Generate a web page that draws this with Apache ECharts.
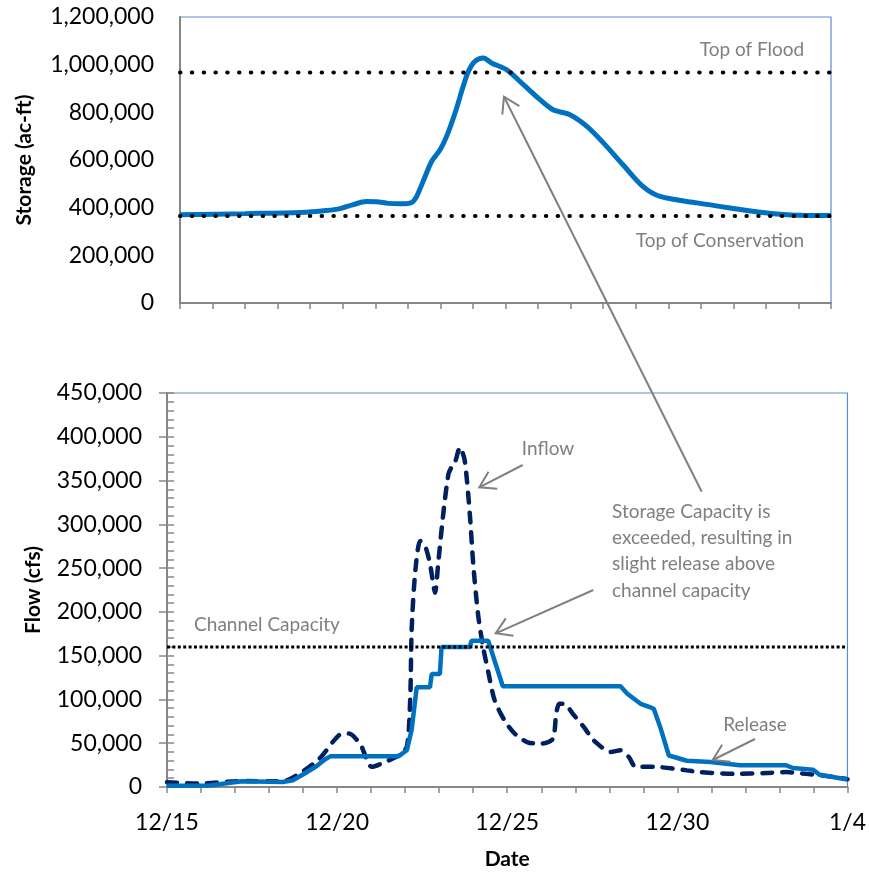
<!DOCTYPE html>
<html><head><meta charset="utf-8">
<script src="https://cdn.jsdelivr.net/npm/echarts@6/dist/echarts.min.js"></script>
<style>html,body{margin:0;padding:0;background:#fff}#c{width:869px;height:878px}</style>
</head><body><div id="c"></div>
<script>
// ---- data ----
const dateLabels = ['12/15', '12/20', '12/25', '12/30', '1/4'];
const dayCount = 20;

const storageDays   = [0, 2, 3.7, 4.5, 4.92, 5.3, 5.73, 6.04, 6.4, 6.76, 7.12, 7.27, 7.53, 7.73, 7.99, 8.19, 8.45, 8.7, 8.86, 9.06, 9.32, 9.57, 10.03, 10.55, 11.06, 11.46, 11.98, 12.5, 13.0, 13.61, 14.22, 14.75, 15.88, 16.9, 17.9, 18.96, 20];
const storageValues = [370000, 375000, 380000, 388000, 396000, 412000, 426000, 425000, 418000, 416000, 422000, 447000, 531000, 594000, 643000, 699000, 797000, 909000, 972000, 1014000, 1028000, 1007000, 979000, 916000, 853000, 811000, 790000, 741000, 673000, 580000, 489000, 447000, 420000, 399000, 380000, 368000, 367000];

const inflowDays   = [0, 0.96, 2.2, 3.4, 3.88, 4.47, 5.05, 5.34, 5.68, 6.02, 6.41, 6.8, 7.05, 7.15, 7.19, 7.29, 7.44, 7.58, 7.73, 7.88, 7.97, 8.12, 8.27, 8.36, 8.46, 8.61, 8.75, 8.9, 9.0, 9.14, 9.29, 9.45, 9.63, 9.92, 10.22, 10.6, 10.99, 11.34, 11.44, 11.53, 11.68, 11.92, 12.26, 12.55, 13.04, 13.33, 13.58, 13.77, 14.31, 15.28, 15.67, 16.65, 17.62, 18.2, 18.79, 19.3, 20];
const inflowValues = [5500, 4000, 6800, 6500, 15000, 32000, 59000, 61000, 49000, 23000, 28500, 36000, 46000, 103000, 179000, 243000, 281000, 276000, 255000, 222000, 255000, 312000, 357000, 365000, 370000, 388000, 373000, 312000, 255000, 198000, 160000, 130000, 99000, 76000, 61000, 51000, 49500, 55000, 84000, 95000, 95000, 84000, 68000, 53000, 40000, 42000, 34000, 23000, 23000, 19000, 17000, 15000, 16000, 17000, 15000, 13000, 9000];

const releaseDays   = [0, 1.25, 2.2, 3.4, 3.7, 4.07, 4.4, 4.66, 4.8, 6.8, 7.05, 7.19, 7.34, 7.73, 7.78, 8.02, 8.07, 8.9, 8.95, 9.44, 9.87, 13.33, 13.53, 13.92, 14.21, 14.31, 14.5, 14.75, 15.28, 15.97, 16.84, 18.2, 18.4, 18.99, 19.18, 20];
const releaseValues = [1500, 1600, 6500, 5700, 7600, 16000, 24000, 32000, 35000, 35000, 42000, 65000, 114000, 114000, 129000, 129000, 160000, 160000, 167000, 167000, 115000, 115000, 106600, 95000, 91000, 89000, 68000, 36000, 30000, 28500, 24800, 24800, 21700, 19800, 14000, 8500];

const topOfFlood = 967000;
const topOfConservation = 365000;
const channelCapacity = 160000;

const storageTicks = [0, 1200000, 200000];   // min, max, step
const flowTicks = [0, 450000, 50000];

// ---- build ----
const pairs = (xs, ys) => xs.map((x, i) => [x, ys[i]]);
const fmt = v => v.toLocaleString('en-US');
const FONT = 'Lato, "Open Sans", sans-serif';
const AX = '#868686';
const GREY = '#7F7F7F';

function arrow(x1, y1, x2, y2) {
  const dx = x1 - x2, dy = y1 - y2, L = Math.hypot(dx, dy), ux = dx / L, uy = dy / L;
  const len = 18, a = 32 * Math.PI / 180;
  const rot = ang => [x2 + len * (ux * Math.cos(ang) - uy * Math.sin(ang)), y2 + len * (ux * Math.sin(ang) + uy * Math.cos(ang))];
  return [
    { type: 'line', z: 100, shape: { x1, y1, x2, y2 }, style: { stroke: '#808080', lineWidth: 2 } },
    { type: 'polyline', z: 100, shape: { points: [rot(a), [x2, y2], rot(-a)] }, style: { stroke: '#808080', lineWidth: 2, fill: null } }
  ];
}
function label(text, x, y, align) {
  return { type: 'text', z: 100, x, y, style: { text, fill: GREY, font: '19px ' + FONT, textAlign: align || 'center', textVerticalAlign: 'middle' } };
}

const chart = echarts.init(document.getElementById('c'), null, { renderer: 'canvas' });
const baseX = {
  type: 'value', min: 0, max: dayCount, interval: 1,
  axisLine: { lineStyle: { color: AX, width: 2 } },
  axisTick: { show: true, length: 6, lineStyle: { color: AX, width: 1.5 } },
  splitLine: { show: false }
};
chart.setOption({
  animation: false,
  backgroundColor: '#fff',
  grid: [
    { left: 180, top: 17, width: 651, height: 286, show: true, borderColor: '#5B8BD0', borderWidth: 1.2, backgroundColor: 'transparent' },
    { left: 167, top: 393, width: 684, height: 394, show: true, borderColor: '#5B8BD0', borderWidth: 1.2, backgroundColor: 'transparent' }
  ],
  xAxis: [
    Object.assign({}, baseX, { gridIndex: 0, axisLabel: { show: false } }),
    Object.assign({}, baseX, {
      gridIndex: 1,
      axisLabel: { show: true, margin: 24, color: '#000', fontSize: 23, fontFamily: FONT,
        formatter: v => (v % 5 === 0 ? dateLabels[v / 5] : '') },
      name: 'Date', nameLocation: 'middle', nameGap: 62,
      nameTextStyle: { fontSize: 21, fontWeight: 'bold', color: '#000', fontFamily: FONT }
    })
  ],
  yAxis: [
    {
      type: 'value', gridIndex: 0, position: 'left', min: storageTicks[0], max: storageTicks[1], interval: storageTicks[2],
      axisLine: { show: true, lineStyle: { color: AX, width: 2 } },
      axisTick: { show: false }, splitLine: { show: false },
      axisLabel: { margin: 26, color: '#000', fontSize: 23, fontFamily: FONT, formatter: fmt },
      name: 'Storage (ac-ft)', nameLocation: 'middle', nameRotate: 90, nameGap: 145,
      nameTextStyle: { fontSize: 21, fontWeight: 'bold', color: '#000', fontFamily: FONT }
    },
    {
      type: 'value', gridIndex: 1, position: 'left', min: flowTicks[0], max: flowTicks[1], interval: flowTicks[2],
      axisLine: { show: true, lineStyle: { color: AX, width: 2 } },
      axisTick: { show: true, length: 8, lineStyle: { color: AX, width: 1.5 } }, splitLine: { show: false },
      axisLabel: { margin: 25, color: '#000', fontSize: 23, fontFamily: FONT, formatter: fmt },
      name: 'Flow (cfs)', nameLocation: 'middle', nameRotate: 90, nameGap: 123,
      nameTextStyle: { fontSize: 21, fontWeight: 'bold', color: '#000', fontFamily: FONT }
    },
    {
      type: 'value', gridIndex: 1, position: 'left', offset: 0, min: flowTicks[0], max: flowTicks[1], interval: flowTicks[2],
      axisLine: { show: false }, axisLabel: { show: false }, splitLine: { show: false },
      axisTick: { show: true, inside: true, length: 7, lineStyle: { color: AX, width: 1.5 } },
      minorTick: { show: true, splitNumber: 5, length: 7, lineStyle: { color: AX, width: 1.5 } }
    }
  ],
  series: [
    { type: 'line', name: 'Storage', xAxisIndex: 0, yAxisIndex: 0, data: pairs(storageDays, storageValues),
      smooth: 0.3, symbol: 'none', lineStyle: { color: '#0070C0', width: 5 } },
    { type: 'line', name: 'Top of Flood', xAxisIndex: 0, yAxisIndex: 0, data: [[0, topOfFlood], [dayCount, topOfFlood]],
      symbol: 'none', lineStyle: { color: '#000', width: 4, type: [0.5, 11.3], cap: 'round' } },
    { type: 'line', name: 'Top of Conservation', xAxisIndex: 0, yAxisIndex: 0, data: [[0, topOfConservation], [dayCount, topOfConservation]],
      symbol: 'none', lineStyle: { color: '#000', width: 4, type: [0.5, 11.3], cap: 'round' } },
    { type: 'line', name: 'Inflow', xAxisIndex: 1, yAxisIndex: 1, data: pairs(inflowDays, inflowValues),
      smooth: 0.25, symbol: 'none', lineStyle: { color: '#002060', width: 4.5, type: [10, 10], cap: 'round' } },
    { type: 'line', name: 'Release', xAxisIndex: 1, yAxisIndex: 1, data: pairs(releaseDays, releaseValues),
      symbol: 'none', lineStyle: { color: '#0070C0', width: 4.5 } },
    { type: 'line', name: 'Channel Capacity', xAxisIndex: 1, yAxisIndex: 1, data: [[0, channelCapacity], [dayCount, channelCapacity]],
      symbol: 'none', lineStyle: { color: '#000', width: 3, type: [3, 2.4] } }
  ],
  graphic: [
    label('Top of Flood', 752, 50),
    label('Top of Conservation', 720, 241),
    label('Channel Capacity', 267, 625),
    label('Inflow', 548, 449),
    label('Release', 755, 725),
    label('Storage Capacity is', 612, 512, 'left'),
    label('exceeded, resulting in', 612, 538, 'left'),
    label('slight release above', 612, 564, 'left'),
    label('channel capacity', 612, 591, 'left'),
    ...arrow(701.7, 491.7, 504, 96.7),
    ...arrow(522.7, 465, 479.3, 487.3),
    ...arrow(593.3, 590, 495.7, 633.3),
    ...arrow(755, 739, 712.7, 760)
  ]
});
</script>
</body></html>
